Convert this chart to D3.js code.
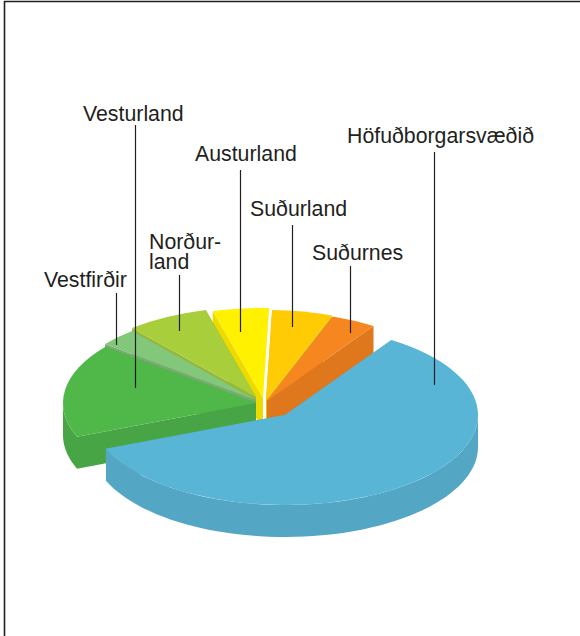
<!DOCTYPE html>
<html><head><meta charset="utf-8">
<script src="https://cdn.jsdelivr.net/npm/d3@7"></script>
<style>html,body{margin:0;padding:0;background:#fff}svg{display:block}text{font-family:"Liberation Sans",Arial,sans-serif;font-size:21.3px;fill:#231f20}</style>
</head><body><div id="c"></div>
<script>
// Data (share in percent)
const regions = ["Höfuðborgarsvæðið","Vesturland","Vestfirðir","Norðurland","Austurland","Suðurland","Suðurnes"];
const shares = [59.6,16.8,3.2,6.9,4.7,5.05,3.75];
// Styles and layout
const topColors  = ["#59b5d6","#50b848","#83c77a","#a8cf3b","#fff100","#ffcb05","#f68620"];
const wallColors = ["#53a6c4","#48a545","#77ab70","#98b935","#efda00","#ecb90a","#df781d"];
const offsetX = [0,-29,-29,-29,-22,-19,-18];
const offsetY = [0,-12,-15,-18,-17,-15,-14];
const showEndWall = [true,true,true,true,false,true,true];
const labelLines = [["Höfuðborgarsvæðið"],["Vesturland"],["Vestfirðir"],["Norður-","land"],["Austurland"],["Suðurland"],["Suðurnes"]];
const labelX = [347,83,44,149,195,250,312];
const labelY = [143,121,287,249,161,216,260];
const leaderX = [434,135,116,179,240,292,350];
const leaderTop = [152,125,293,275,170,225,266];
const leaderBottom = [385,388,345,331,332,327,333];

const W=580,H=636,cx=285,cy=415,rx=193,ry=90,depth=32;
const svg=d3.select("#c").append("svg").attr("width",W).attr("height",H);
svg.append("path").attr("d",`M4.5,${H}V1.5H${W}`).attr("fill","none").attr("stroke","#231f20").attr("stroke-width",1.6);

const pie=d3.pie().sort(null).startAngle(33.5*Math.PI/180).endAngle(393.5*Math.PI/180);
const arcs=pie(shares);
const arc=d3.arc().innerRadius(0).outerRadius(rx);
const line=d3.line();
const px=a=>rx*Math.sin(a), py=a=>-ry*Math.cos(a);

// Painter's order: back slices first, the main slice last
const order=[4,5,6,3,2,1,0];
order.forEach(i=>{
  const d=arcs[i], g=svg.append("g").attr("transform",`translate(${cx+offsetX[i]},${cy+offsetY[i]})`);
  const rad=a=>[[0,0],[px(a),py(a)],[px(a),py(a)+depth],[0,depth]];
  g.append("path").attr("d",line(rad(d.startAngle))+"Z").attr("fill",wallColors[i]);
  if(showEndWall[i]) g.append("path").attr("d",line(rad(d.endAngle))+"Z").attr("fill",wallColors[i]);
  const lo=Math.max(d.startAngle,Math.PI/2), hi=Math.min(d.endAngle,Math.PI*1.5);
  if(hi>lo){
    const as=d3.range(0,61).map(k=>lo+(hi-lo)*k/60);
    const pts=as.map(a=>[px(a),py(a)]).concat(as.slice().reverse().map(a=>[px(a),py(a)+depth]));
    g.append("path").attr("d",line(pts)+"Z").attr("fill",wallColors[i]);
  }
  g.append("path").attr("transform",`scale(1,${ry/rx})`).attr("d",arc(d)).attr("fill",topColors[i]);
});

regions.forEach((r,i)=>{
  svg.append("line").attr("x1",leaderX[i]+.5).attr("x2",leaderX[i]+.5).attr("y1",leaderTop[i]).attr("y2",leaderBottom[i]).attr("stroke","#231f20").attr("stroke-width",1.2);
  const t=svg.append("text").attr("x",labelX[i]).attr("y",labelY[i]);
  labelLines[i].forEach((s,k)=>t.append("tspan").attr("x",labelX[i]).attr("dy",k?20:0).text(s));
});
</script></body></html>
